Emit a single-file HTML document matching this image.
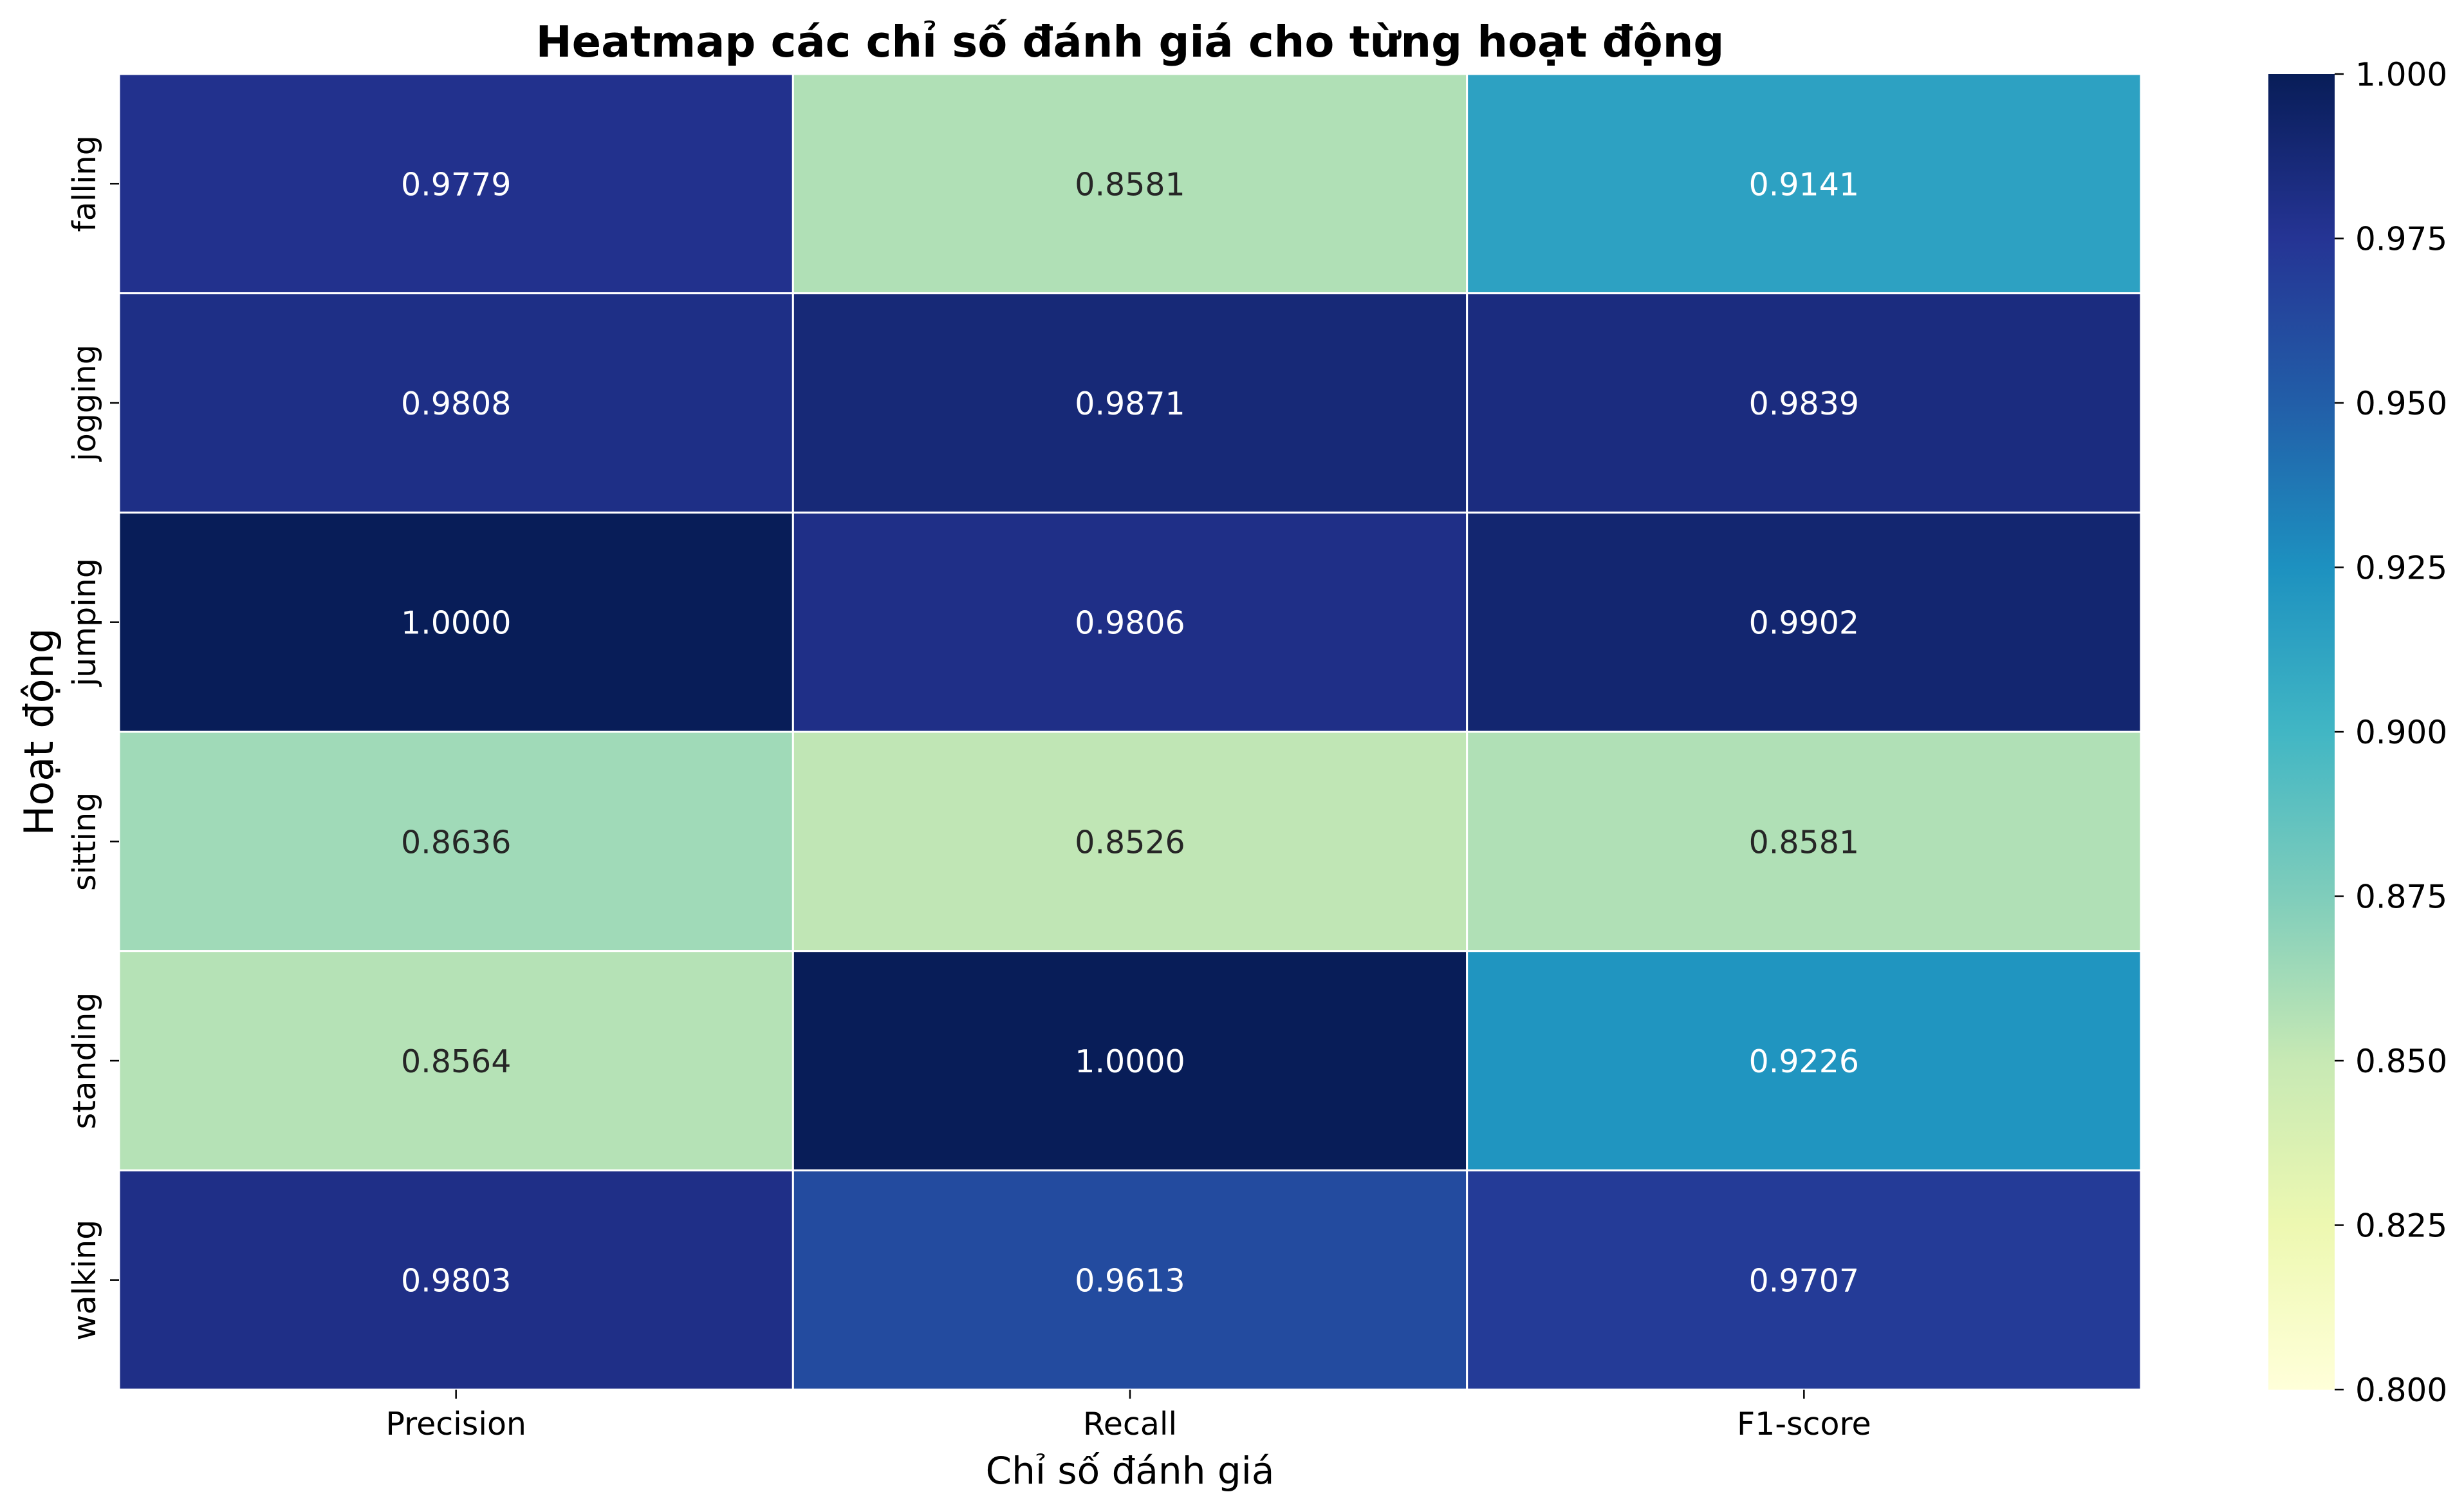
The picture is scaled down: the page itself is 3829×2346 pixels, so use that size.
<!DOCTYPE html>
<html><head><meta charset="utf-8"><style>
html,body{margin:0;padding:0;background:#fff;}
svg{display:block;font-family:"DejaVu Sans","Liberation Sans",sans-serif;}
</style></head><body>
<svg id="chart" width="3829" height="2346" viewBox="0 0 3829 2346" xmlns="http://www.w3.org/2000/svg">
<defs>
<linearGradient id="cbgrad" x1="0" y1="1" x2="0" y2="0">
<stop offset="0" stop-color="#ffffd9"/><stop offset="0.125" stop-color="#edf8b1"/><stop offset="0.25" stop-color="#c7e9b4"/><stop offset="0.375" stop-color="#7fcdbb"/><stop offset="0.5" stop-color="#41b6c4"/><stop offset="0.625" stop-color="#1d91c0"/><stop offset="0.75" stop-color="#225ea8"/><stop offset="0.875" stop-color="#253494"/><stop offset="1" stop-color="#081d58"/>
</linearGradient>
</defs>
<text x="1756" y="88" text-anchor="middle" font-size="67" font-weight="bold">Heatmap các chỉ số đánh giá cho từng hoạt động</text>
<g id="cells"></g>
<g id="axes"></g>
<text x="1756" y="2305" text-anchor="middle" font-size="58">Chỉ số đánh giá</text>
<text transform="translate(82,1137) rotate(-90)" text-anchor="middle" font-size="62">Hoạt động</text>
<rect x="3525" y="115" width="103" height="2044" fill="url(#cbgrad)"/>
<g id="cbticks"></g>
</svg>
<script>
const activities = ["falling","jogging","jumping","sitting","standing","walking"];
const metrics = ["Precision","Recall","F1-score"];
const precision = [0.9779,0.9808,1.0000,0.8636,0.8564,0.9803];
const recall = [0.8581,0.9871,0.9806,0.8526,1.0000,0.9613];
const f1 = [0.9141,0.9839,0.9902,0.8581,0.9226,0.9707];
const cbTicks = [0.800,0.825,0.850,0.875,0.900,0.925,0.950,0.975,1.000];
const vmin = 0.8, vmax = 1.0;

const NS = "http://www.w3.org/2000/svg";
const L = 185, R = 3327, T = 115, B = 2159;
const cw = (R - L) / metrics.length, ch = (B - T) / activities.length;
const stops = ["#ffffd9","#edf8b1","#c7e9b4","#7fcdbb","#41b6c4","#1d91c0","#225ea8","#253494","#081d58"].map(h=>[parseInt(h.slice(1,3),16),parseInt(h.slice(3,5),16),parseInt(h.slice(5,7),16)]);
function color(v){
  let t = Math.max(0, Math.min(1, (v - vmin) / (vmax - vmin))) * (stops.length - 1);
  let i = Math.min(Math.floor(t), stops.length - 2), f = t - i;
  return stops[i].map((c,k)=>Math.round(c + (stops[i+1][k]-c)*f));
}
function lum(c){
  const l = c.map(x=>{x/=255;return x<=0.03928?x/12.92:Math.pow((x+0.055)/1.055,2.4);});
  return 0.2126*l[0]+0.7152*l[1]+0.0722*l[2];
}
function xPos(j){return L + j*cw;}
function yPos(i){return T + i*ch;}
function cbY(v){return B - (v - vmin)/(vmax - vmin)*(B - T);}

const cells = document.getElementById('cells');
const series = [precision, recall, f1];
series.forEach((arr, j) => {
  arr.forEach((v, i) => {
    const c = color(v);
    const r = document.createElementNS(NS,'rect');
    
    
    r.setAttribute('x', xPos(j)); r.setAttribute('y', yPos(i));
    r.setAttribute('width', cw); r.setAttribute('height', ch);
    r.setAttribute('fill', 'rgb(' + c.join(',') + ')');
    r.setAttribute('stroke', '#fff'); r.setAttribute('stroke-width', '3');
    cells.appendChild(r);
    const t = document.createElementNS(NS,'text');
    
    
    t.setAttribute('x', xPos(j) + cw/2); t.setAttribute('y', yPos(i) + ch/2 + 18);
    t.setAttribute('text-anchor', 'middle'); t.setAttribute('font-size', '49');
    t.setAttribute('fill', lum(c) > 0.408 ? '#262626' : '#ffffff');
    t.textContent = v.toFixed(4);
    cells.appendChild(t);
  });
});

const axes = document.getElementById('axes');
metrics.forEach((m, j) => {
  const x = xPos(j) + cw/2;
  const tk = document.createElementNS(NS,'line');
  
  
  tk.setAttribute('x1', x); tk.setAttribute('x2', x); tk.setAttribute('y1', B); tk.setAttribute('y2', B + 14);
  tk.setAttribute('stroke', '#000'); tk.setAttribute('stroke-width', '2.5');
  axes.appendChild(tk);
  const t = document.createElementNS(NS,'text');
  
  
  t.setAttribute('x', x); t.setAttribute('y', 2229);
  t.setAttribute('text-anchor', 'middle'); t.setAttribute('font-size', '49');
  t.textContent = m;
  axes.appendChild(t);
});
activities.forEach((a, i) => {
  const y = yPos(i) + ch/2;
  const tk = document.createElementNS(NS,'line');
  
  
  tk.setAttribute('x1', L - 14); tk.setAttribute('x2', L); tk.setAttribute('y1', y); tk.setAttribute('y2', y);
  tk.setAttribute('stroke', '#000'); tk.setAttribute('stroke-width', '2.5');
  axes.appendChild(tk);
  const t = document.createElementNS(NS,'text');
  
  
  t.setAttribute('transform', 'translate(148,' + y + ') rotate(-90)');
  t.setAttribute('text-anchor', 'middle'); t.setAttribute('font-size', '49');
  t.textContent = a;
  axes.appendChild(t);
});

const cbt = document.getElementById('cbticks');
cbTicks.forEach(v => {
  const y = cbY(v);
  const tk = document.createElementNS(NS,'line');
  
  
  tk.setAttribute('x1', 3628); tk.setAttribute('x2', 3642); tk.setAttribute('y1', y); tk.setAttribute('y2', y);
  tk.setAttribute('stroke', '#000'); tk.setAttribute('stroke-width', '2.5');
  cbt.appendChild(tk);
  const t = document.createElementNS(NS,'text');
  
  
  t.setAttribute('x', 3660); t.setAttribute('y', y + 18);
  t.setAttribute('font-size', '50');
  t.textContent = v.toFixed(3);
  cbt.appendChild(t);
});
</script>
</body></html>
